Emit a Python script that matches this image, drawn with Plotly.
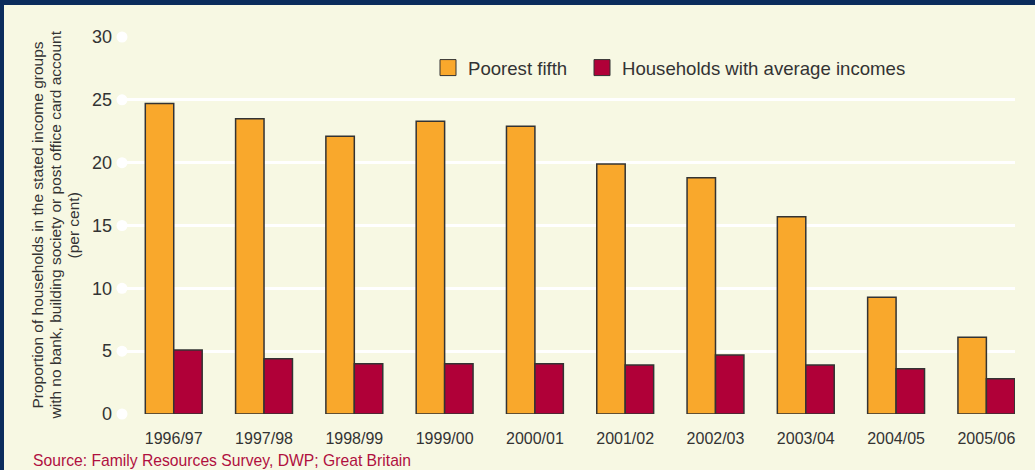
import plotly.graph_objects as go

categories = ["1996/97", "1997/98", "1998/99", "1999/00", "2000/01",
              "2001/02", "2002/03", "2003/04", "2004/05", "2005/06"]
poorest_fifth = [24.7, 23.5, 22.1, 23.3, 22.9, 19.9, 18.8, 15.7, 9.3, 6.1]
average_incomes = [5.1, 4.4, 4.0, 4.0, 4.0, 3.9, 4.7, 3.9, 3.6, 2.8]
y_ticks = [0, 5, 10, 15, 20, 25, 30]
y_title_lines = ["Proportion of households in the stated income groups",
                 "with no bank, building society or post office card account",
                 "(per cent)"]

ORANGE = "#F9A82C"
RED = "#B00038"
EDGE = "#333333"
BG = "#F7F8E3"
NAVY = "#0B2C5C"
TEXT = "#333333"

W, H = 1035, 470
ML, MR, MT, MB = 122, 20, 37, 56
PW, PH = W - ML - MR, H - MT - MB

x_range = [-0.573, 9.317]

def px_to_paper_x(px):
    return (px - ML) / PW

def py_to_paper_y(py):
    return (H - MB - py) / PH

fig = go.Figure()
fig.add_trace(go.Bar(x=categories, y=poorest_fifth, name="Poorest fifth",
                     marker=dict(color=ORANGE, line=dict(color=EDGE, width=1.5)),
                     showlegend=False))
fig.add_trace(go.Bar(x=categories, y=average_incomes, name="Households with average incomes",
                     marker=dict(color=RED, line=dict(color=EDGE, width=1.5)),
                     showlegend=False))

# tick dots at the left end of gridlines (on an overlay numeric x axis)
fig.add_trace(go.Scatter(x=[0] * len(y_ticks), y=y_ticks, mode="markers", xaxis="x2",
                         marker=dict(color="white", size=11), cliponaxis=False,
                         showlegend=False, hoverinfo="skip"))

# legend entries (one legend box each, to place them like the original)
fig.add_trace(go.Scatter(x=[None], y=[None], mode="markers", name="Poorest fifth",
                         legend="legend",
                         marker=dict(symbol="square", size=20, color=ORANGE,
                                     line=dict(color=EDGE, width=1))))
fig.add_trace(go.Scatter(x=[None], y=[None], mode="markers",
                         name="Households with average incomes", legend="legend2",
                         marker=dict(symbol="square", size=20, color=RED,
                                     line=dict(color=EDGE, width=1))))

legend_common = dict(orientation="h", xanchor="left", yanchor="top",
                     y=py_to_paper_y(49), font=dict(size=18.6, color=TEXT),
                     bgcolor="rgba(0,0,0,0)", itemsizing="trace")

fig.update_layout(
    width=W, height=H,
    margin=dict(l=ML, r=MR, t=MT, b=MB),
    paper_bgcolor=BG, plot_bgcolor=BG,
    barmode="group", bargap=0.37, bargroupgap=0,
    font=dict(family="Liberation Sans, Arial, sans-serif", color=TEXT),
    legend=dict(x=px_to_paper_x(428), **legend_common),
    legend2=dict(x=px_to_paper_x(582), **legend_common),
    xaxis=dict(range=x_range, showgrid=False, zeroline=False, showline=False,
               ticks="", tickfont=dict(size=16, color=TEXT), ticklabelstandoff=13),
    xaxis2=dict(range=[0, 1], overlaying="x", visible=False),
    yaxis=dict(range=[0, 30], tickvals=y_ticks, showgrid=True, gridcolor="white",
               gridwidth=3, zeroline=False, showline=False, ticks="",
               tickfont=dict(size=18, color=TEXT), ticklabelstandoff=9),
)

for line, xc in zip(y_title_lines, [37, 55, 73]):
    fig.add_annotation(
        text=line, xref="paper", yref="paper", x=0, y=0.5, xshift=xc - ML,
        xanchor="center", yanchor="middle", textangle=-90, showarrow=False,
        font=dict(size=15.5, color=TEXT))

fig.add_annotation(
    text="Source: Family Resources Survey, DWP; Great Britain",
    xref="paper", yref="paper", x=0, y=py_to_paper_y(460), xshift=31 - ML,
    xanchor="left", yanchor="middle", showarrow=False,
    font=dict(size=15.7, color="#B0103F"))

# frame: top band and left border
fig.add_shape(type="rect", xref="paper", yref="paper",
              x0=px_to_paper_x(0), x1=px_to_paper_x(W), y0=py_to_paper_y(5), y1=py_to_paper_y(0),
              fillcolor=NAVY, line=dict(width=0), layer="above")
fig.add_shape(type="rect", xref="paper", yref="paper",
              x0=px_to_paper_x(0), x1=px_to_paper_x(4), y0=py_to_paper_y(H), y1=py_to_paper_y(0),
              fillcolor=NAVY, line=dict(width=0), layer="above")

fig.write_html("out.html", config={"displayModeBar": False},
               post_script="document.body.style.margin='0';")
